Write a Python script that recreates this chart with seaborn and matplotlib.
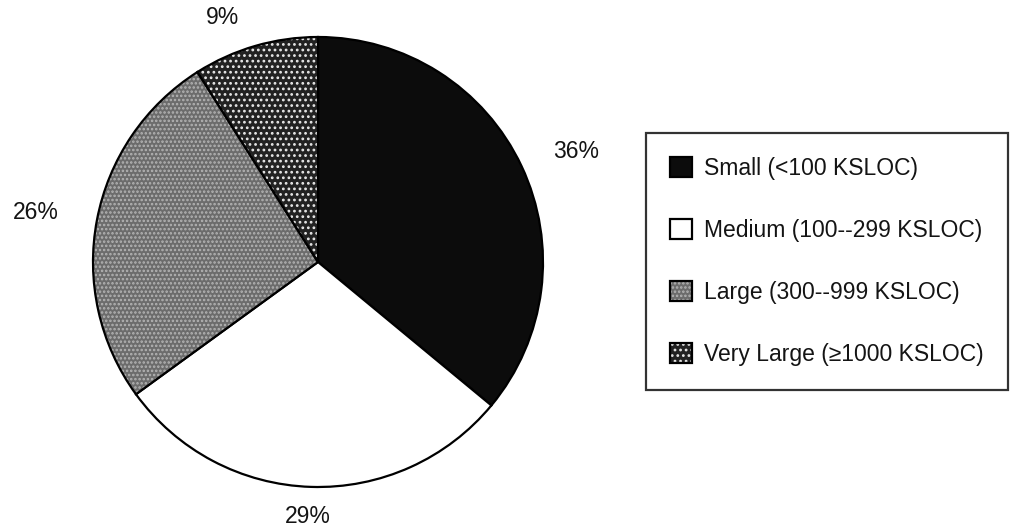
import matplotlib
matplotlib.use("Agg")
import matplotlib.pyplot as plt
import numpy as np
import seaborn as sns

# ---- data ----
categories = ["Small (<100 KSLOC)", "Medium (100--299 KSLOC)",
              "Large (300--999 KSLOC)", "Very Large (\u22651000 KSLOC)"]
shares = [36, 29, 26, 9]
pct_labels = ["36%", "29%", "26%", "9%"]

# ---- style ----
sns.set_theme(style="white")
plt.rcParams["font.family"] = ["Liberation Sans", "DejaVu Sans"]
plt.rcParams["hatch.linewidth"] = 1.2

face_colors = ["#0c0c0c", "#ffffff", "#6c6c6c", "#222222"]
hatches = [None, None, "....", "..."]
hatch_colors = [None, None, "#b4b4b4", "#e8e8e8"]
label_dist = [1.25, 1.13, 1.275, 1.165]
label_shift = [-2.0, -0.5, 0.8, 5.2]   # degrees, label placement tweak

fig = plt.figure(figsize=(10.10, 5.30), dpi=100)
fig.patch.set_facecolor("white")

# pie axes: centre (318, 262) px, radius ~225 px
ax = fig.add_axes([93 / 1010, (530 - 262 - 225) / 530, 450 / 1010, 450 / 530])
wedges, _ = ax.pie(shares, startangle=90, counterclock=False, colors=face_colors,
                   wedgeprops=dict(edgecolor="black", linewidth=1.6))
for w, h, hc in zip(wedges, hatches, hatch_colors):
    if h:
        w.set_hatch(h)
        w._hatch_color = matplotlib.colors.to_rgba(hc)
ax.set_xlim(-1.0, 1.0)
ax.set_ylim(-1.0, 1.0)
ax.set_aspect("equal")
ax.axis("off")

for w, lab, d, s in zip(wedges, pct_labels, label_dist, label_shift):
    mid = np.deg2rad((w.theta1 + w.theta2) / 2.0 + s)
    ax.text(d * np.cos(mid), d * np.sin(mid), lab, ha="center", va="center",
            fontsize=16.5, color="#141414", clip_on=False)

leg = fig.legend(wedges, categories, loc="upper left",
                 bbox_to_anchor=(646 / 1010, 1 - 133 / 530),
                 bbox_transform=fig.transFigure,
                 fontsize=16.5, frameon=True, fancybox=False, shadow=False,
                 handlelength=0.95, handleheight=0.95, handletextpad=0.55,
                 labelspacing=1.7, borderpad=1.05, borderaxespad=0.0)
frame = leg.get_frame()
frame.set_edgecolor("black")
frame.set_linewidth(1.6)
frame.set_facecolor("white")
for t in leg.get_texts():
    t.set_color("#141414")

fig.savefig("out.png", dpi=100, facecolor="white")
